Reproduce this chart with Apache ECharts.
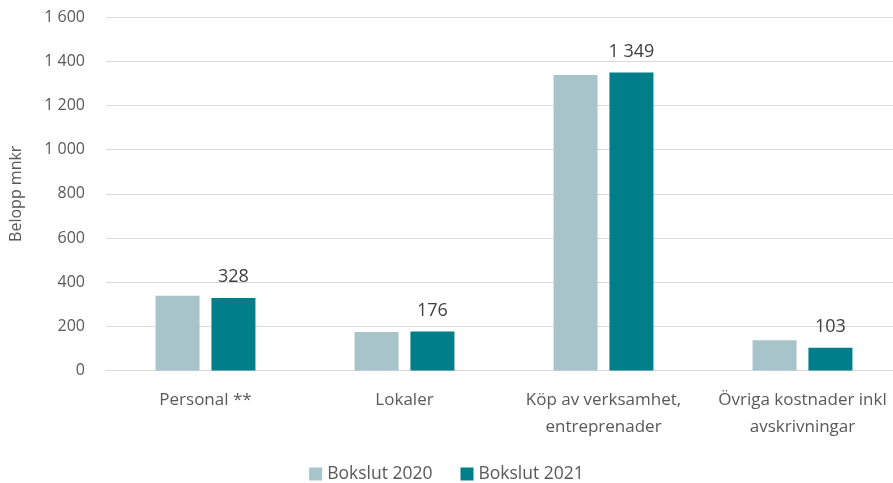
<!DOCTYPE html>
<html>
<head>
<meta charset="utf-8">
<script src="https://cdn.jsdelivr.net/npm/echarts@6/dist/echarts.min.js"></script>
<style>
  html, body { margin: 0; padding: 0; background: #fff; }
  #chart { width: 893px; height: 483px; }
</style>
</head>
<body>
<div id="chart"></div>
<script>
var categories = ['Personal **', 'Lokaler', 'Köp av verksamhet,\nentreprenader', 'Övriga kostnader inkl\navskrivningar'];
var bokslut2020 = [338, 174, 1338, 137];
var bokslut2021 = [328, 176, 1349, 103];
var yTicks = [0, 200, 400, 600, 800, 1000, 1200, 1400, 1600];

var textColor = '#595959';
var font = '"Open Sans", "Noto Sans", sans-serif';

function sep(v) {
    return String(v).replace(/\B(?=(\d{3})+(?!\d))/g, ' ');
}

var myChart = echarts.init(document.getElementById('chart'));

var option = {
    animation: false,
    textStyle: { fontFamily: font, color: textColor },
    grid: { left: 106, right: -9, top: 17, bottom: 112.5, outerBoundsMode: 'none', containLabel: false },
    legend: {
        top: 460,
        left: 'center',
        itemWidth: 13,
        itemHeight: 13,
        itemGap: 28,
        icon: 'rect',
        textStyle: { fontSize: 17.5, color: textColor, fontFamily: font },
        data: ['Bokslut 2020', 'Bokslut 2021']
    },
    xAxis: {
        type: 'category',
        data: categories,
        axisLine: { lineStyle: { color: '#d9d9d9' } },
        axisTick: { show: false },
        axisLabel: { fontSize: 17, color: textColor, margin: 16, lineHeight: 27, interval: 0 }
    },
    yAxis: {
        type: 'value',
        min: yTicks[0],
        max: yTicks[yTicks.length - 1],
        interval: 200,
        name: 'Belopp mnkr',
        nameLocation: 'middle',
        nameGap: 82,
        nameRotate: 90,
        nameTextStyle: { fontSize: 16, color: textColor, fontFamily: font },
        axisLine: { show: false },
        axisTick: { show: false },
        splitLine: { lineStyle: { color: '#d9d9d9', width: 1 } },
        axisLabel: { fontSize: 16, color: textColor, margin: 21, formatter: sep }
    },
    series: [
        {
            name: 'Bokslut 2020',
            type: 'bar',
            data: bokslut2020,
            barWidth: 44,
            barGap: '27%',
            itemStyle: { color: '#a7c4ca' }
        },
        {
            name: 'Bokslut 2021',
            type: 'bar',
            data: bokslut2021,
            barWidth: 44,
            barGap: '27%',
            itemStyle: { color: '#007f8a' },
            label: {
                show: true,
                position: 'top',
                distance: 12,
                fontSize: 18,
                color: '#404040',
                fontFamily: font,
                formatter: function (p) { return sep(p.value); }
            }
        }
    ]
};

myChart.setOption(option);
</script>
</body>
</html>
